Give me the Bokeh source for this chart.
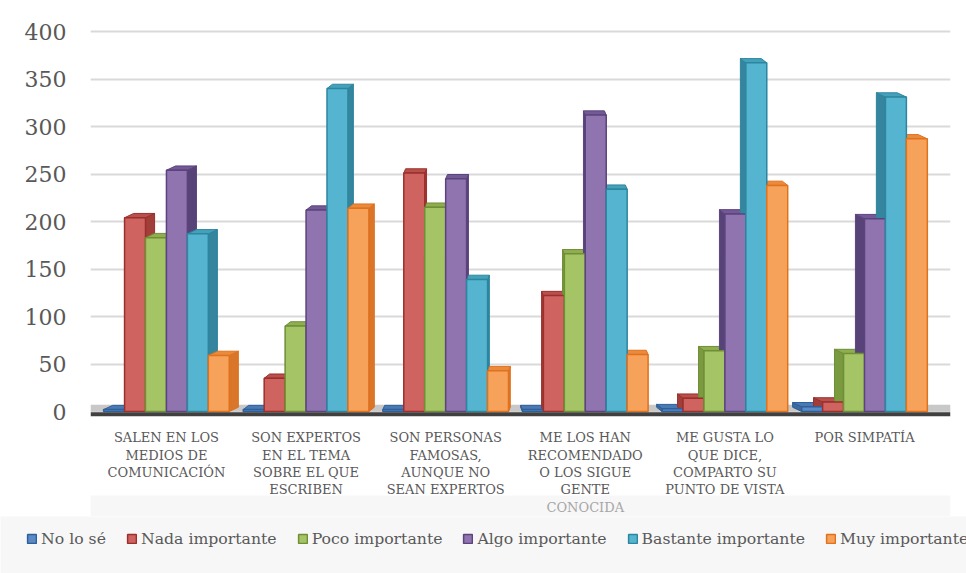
from bokeh.plotting import figure
from bokeh.layouts import column
from bokeh.models import ColumnDataSource, FixedTicker, BoxAnnotation, Span, Legend, LegendItem
from bokeh.core.properties import value
from bokeh.embed import file_html
from bokeh.resources import INLINE

categories = [
    "SALEN EN LOS\nMEDIOS DE\nCOMUNICACIÓN",
    "SON EXPERTOS\nEN EL TEMA\nSOBRE EL QUE\nESCRIBEN",
    "SON PERSONAS\nFAMOSAS,\nAUNQUE NO\nSEAN EXPERTOS",
    "ME LOS HAN\nRECOMENDADO\nO LOS SIGUE\nGENTE\nCONOCIDA",
    "ME GUSTA LO\nQUE DICE,\nCOMPARTO SU\nPUNTO DE VISTA",
    "POR SIMPATÍA",
]
series_names = ["No lo sé", "Nada importante", "Poco importante",
                "Algo importante", "Bastante importante", "Muy importante"]
no_lo_se = [2, 2, 2, 2, 3, 5]
nada_importante = [204, 35, 251, 122, 14, 10]
poco_importante = [183, 90, 215, 166, 64, 61]
algo_importante = [254, 212, 245, 312, 208, 203]
bastante_importante = [187, 340, 139, 234, 367, 331]
muy_importante = [59, 214, 43, 60, 238, 287]
y_ticks = [0, 50, 100, 150, 200, 250, 300, 350, 400]

series_values = [no_lo_se, nada_importante, poco_importante,
                 algo_importante, bastante_importante, muy_importante]
front_colors = ["#5b8ac6", "#cf6360", "#a4c465", "#8f74b0", "#55b4cf", "#f6a25a"]
line_colors = ["#2f5f98", "#9b2f2c", "#6f8e35", "#5c437d", "#2c869f", "#e0711d"]
side_colors = ["#3a6aa0", "#a23e3a", "#7a9a40", "#584379", "#34859d", "#d9762a"]
top_colors = ["#4a7ab4", "#b8504c", "#8fae50", "#735a96", "#45a0ba", "#ea8a3c"]

FONT = "DejaVu Serif"
GRAY = "#595959"
BAND = "#f7f7f7"

p = figure(width=966, height=516, output_backend="svg", toolbar_location=None,
           x_range=(-0.544, 5.616), y_range=(-110.5, 411.6),
           min_border_left=90, min_border_right=16, min_border_top=20, min_border_bottom=0)
p.frame_align = False
p.outline_line_color = None
p.background_fill_color = "white"
p.xaxis.visible = False
p.xgrid.visible = False
p.ygrid.grid_line_color = "#d9d9d9"
p.ygrid.grid_line_width = 2
p.yaxis.ticker = FixedTicker(ticks=y_ticks)
p.ygrid.ticker = FixedTicker(ticks=y_ticks)
p.yaxis.axis_line_color = None
p.yaxis.major_tick_line_color = None
p.yaxis.minor_tick_line_color = None
p.yaxis.major_label_text_font = FONT
p.yaxis.major_label_text_font_size = "22px"
p.yaxis.major_label_text_color = GRAY
p.yaxis.major_label_standoff = 18

p.add_layout(BoxAnnotation(bottom=0, top=7, fill_color="#c8c8c8", fill_alpha=1,
                           line_color=None, level="underlay"))
p.add_layout(Span(location=-3, dimension="width", line_color="#404040", line_width=4))
p.add_layout(BoxAnnotation(top=-88.4, fill_color=BAND, fill_alpha=1,
                           line_color=None, level="underlay"))

w = 0.15
t = 4.5
n = len(categories)

for s, vals in enumerate(series_values):
    side_xs, side_ys, top_xs, top_ys = [], [], [], []
    for i, v in enumerate(vals):
        x0 = i + (s - 2.5) * w - w / 2
        d = (2.5 - i) * 0.026
        if d >= 0:
            side_xs.append([x0 + w, x0 + w + d, x0 + w + d, x0 + w])
        else:
            side_xs.append([x0, x0 + d, x0 + d, x0])
        side_ys.append([0, t, v + t, v])
        top_xs.append([x0, x0 + w, x0 + w + d, x0 + d])
        top_ys.append([v, v, v + t, v + t])
    p.patches(side_xs, side_ys, fill_color=side_colors[s], line_color=line_colors[s], line_width=1)
    p.patches(top_xs, top_ys, fill_color=top_colors[s], line_color=line_colors[s], line_width=1)

sources = []
for s, vals in enumerate(series_values):
    src = ColumnDataSource(dict(x=[i + (s - 2.5) * w for i in range(n)], top=vals))
    sources.append(src)
    p.vbar(x="x", top="top", bottom=0, width=w, source=src,
           fill_color=front_colors[s], line_color=line_colors[s], line_width=1.5)

lx, ly, lt, lc = [], [], [], []
for i, cat in enumerate(categories):
    for k, line in enumerate(cat.split("\n")):
        lx.append(i)
        ly.append(-27.4 - 18.4 * k)
        lt.append(line)
        lc.append(GRAY if k < 4 else "#a6a6a6")
p.text(x=lx, y=ly, text=lt, text_color=lc, text_font=value(FONT), text_font_size="13px",
       text_align="center", text_baseline="middle")

lf = figure(width=966, height=57, output_backend="svg", toolbar_location=None,
            x_range=(0, 1), y_range=(0, 1), min_border=0,
            x_axis_location=None, y_axis_location=None)
lf.frame_align = False
lf.grid.visible = False
lf.outline_line_color = None
lf.background_fill_color = BAND
lf.border_fill_color = BAND
items = []
for s, src in enumerate(sources):
    r = lf.vbar(x="x", top="top", bottom=0, width=w, source=src,
                fill_color=front_colors[s], line_color=line_colors[s], line_width=1.5,
                visible=False)
    items.append(LegendItem(label=series_names[s], renderers=[r]))
legend = Legend(items=items, orientation="horizontal", location=(26, 25),
                label_text_font=FONT, label_text_font_size="15.7px", label_text_color=GRAY,
                glyph_width=11, glyph_height=11, label_standoff=4, spacing=20,
                padding=4, margin=0, label_height=20,
                background_fill_color=BAND, background_fill_alpha=1,
                border_line_color=None)
lf.add_layout(legend)

open("out.html", "w").write(file_html(column(p, lf, spacing=0), INLINE))
